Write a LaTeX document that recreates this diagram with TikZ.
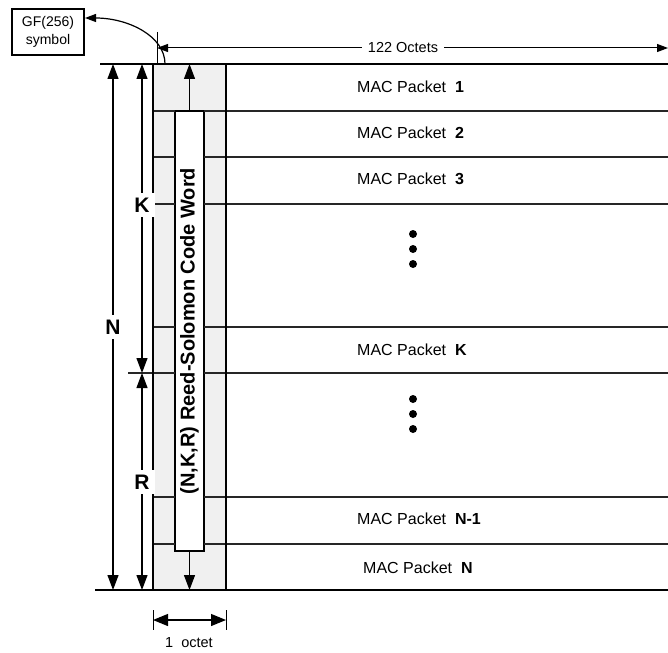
\documentclass[tikz,border=0pt]{standalone}
\usepackage{fontspec}
\setmainfont{Liberation Sans}
\usetikzlibrary{arrows.meta}
\begin{document}
\begin{tikzpicture}[x=1pt,y=-1pt,
  tip/.style={-{Triangle[length=15pt,width=11pt]}},
  smalltip/.style={-{Triangle[length=11pt,width=8pt]}},
  dtip/.style={{Triangle[length=15pt,width=12pt]}-{Triangle[length=15pt,width=12pt]}},
  rowline/.style={line width=1.4pt, draw=black!85},
  thick line/.style={line width=1.8pt},
  shaft/.style={line width=1.2pt},
  pkt/.style={font=\fontsize{16}{18}\selectfont, anchor=west, inner sep=0pt},
  dimlbl/.style={font=\fontsize{21}{23}\selectfont\bfseries, inner sep=5pt, fill=white},
  dot/.style={circle, fill=black, inner sep=0pt, minimum size=8pt}
]
\useasboundingbox (0,0) rectangle (668,652);

% column fill
\fill[black!6] (153,64) rectangle (226,590);

% code word box
\node[draw, fill=white, line width=1.2pt, minimum width=29pt, minimum height=440pt, inner sep=0pt] (cw) at (189.5,331) {};
\node[rotate=90, font=\fontsize{20}{22}\selectfont\bfseries, inner sep=0pt] (cwt) at (cw.center) {(N,K,R) Reed-Solomon Code Word};

% row lines
\foreach \yy in {111,157,204,327,373,497,544}{
  \draw[rowline] (226,\yy) -- (668,\yy);
  \draw[rowline] (153,\yy) -- (175,\yy);
  \draw[rowline] (204,\yy) -- (226,\yy);
}
\draw[rowline] (128,373) -- (153,373);

% top and bottom lines, column sides
\draw[thick line] (100,64) -- (668,64);
\draw[thick line] (95,590) -- (668,590);
\draw[thick line] (153,64) -- (153,590);
\draw[thick line] (226,64) -- (226,590);

% arrows inside column
\coordinate (ctop) at (189.5,64);
\coordinate (cbot) at (189.5,590);
\draw[shaft, tip] (cw.north) -- (ctop);
\draw[shaft, tip] (cw.south) -- (cbot);

% packets
\node[pkt] (p1) at (357,87) {MAC Packet \ \textbf{1}};
\node[pkt] (p2) at (357,133) {MAC Packet \ \textbf{2}};
\node[pkt] (p3) at (357,179) {MAC Packet \ \textbf{3}};
\node[pkt] (pk) at (357,350) {MAC Packet \ \textbf{K}};
\node[pkt] (pn1) at (357,519) {MAC Packet \ \textbf{N-1}};
\node[pkt] (pn) at (363,568) {MAC Packet \ \textbf{N}};

% dots
\foreach \yy [count=\i] in {234,249,264,399,414,429}{
  \node[dot] (d\i) at (413,\yy) {};
}

% dimension N
\coordinate (nt) at (113,64);
\coordinate (nb) at (113,590);
\node[dimlbl] (N) at (113,327) {N};
\draw[shaft, tip] (N) -- (nt);
\draw[shaft, tip] (N) -- (nb);

% dimension K
\coordinate (kt) at (142,64);
\coordinate (kb) at (142,373);
\node[dimlbl] (K) at (142,205) {K};
\draw[shaft, tip] (K) -- (kt);
\draw[shaft, tip] (K) -- (kb);

% dimension R
\coordinate (rt) at (142,373);
\coordinate (rb) at (142,590);
\node[dimlbl] (R) at (142,482) {R};
\draw[shaft, tip] (R) -- (rt);
\draw[shaft, tip] (R) -- (rb);

% 122 octets
\coordinate (ol) at (157,48);
\coordinate (or) at (668,48);
\draw[line width=1pt] (157,32) -- (157,64);
\node[font=\fontsize{14.5}{16}\selectfont, inner sep=6pt] (oct) at (403,48) {122 Octets};
\draw[line width=1pt, smalltip] (oct.west) -- (ol);
\draw[line width=1pt, smalltip] (oct.east) -- (or);

% GF(256) symbol
\node[draw, line width=1.3pt, minimum width=72pt, minimum height=46pt, align=center, inner sep=0pt,
      font=\fontsize{14}{18}\selectfont] (gf) at (48,32) {GF(256)\\symbol};
\coordinate (cs) at (165,64);
\coordinate (ce) at (85,18);
\draw[line width=1.2pt, smalltip] (cs) .. controls (165,36) and (128,18) .. (ce);

% 1 octet
\coordinate (ol1) at (153,620);
\coordinate (or1) at (226,620);
\draw[line width=1pt] (153,610) -- (153,630);
\draw[line width=1pt] (226,610) -- (226,630);
\draw[shaft, dtip] (ol1) -- (or1);
\node[font=\fontsize{14.5}{16}\selectfont, inner sep=0pt] (oneoct) at (189,643) {1\ \ octet};
\end{tikzpicture}
\end{document}
